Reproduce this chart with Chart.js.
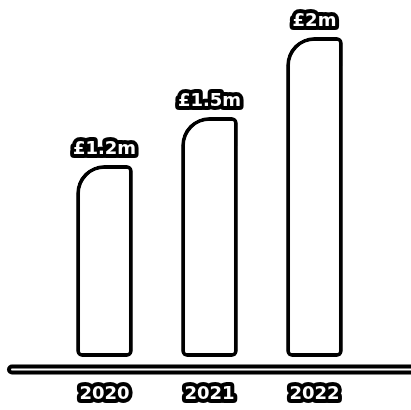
<!DOCTYPE html>
<html>
<head>
<meta charset="utf-8">
<script src="https://cdn.jsdelivr.net/npm/chart.js@4/dist/chart.umd.min.js"></script>
<style>
html,body{margin:0;padding:0;background:#fff;}
#wrap{width:411px;height:410px;}
</style>
</head>
<body>
<div id="wrap"><canvas id="c" width="411" height="410"></canvas></div>
<script>
const categories = ["2020", "2021", "2022"];
const values = [1.2, 1.5, 2.0];
const valueLabels = ["£1.2m", "£1.5m", "£2m"];

const FONT = 'bold 18px "DejaVu Sans", sans-serif';

function outlinedText(ctx, text, x, y) {
  ctx.save();
  ctx.font = FONT;
  ctx.textAlign = 'center';
  ctx.textBaseline = 'middle';
  ctx.lineJoin = 'round';
  ctx.lineCap = 'round';
  ctx.lineWidth = 8;
  ctx.strokeStyle = '#000';
  ctx.strokeText(text, x, y);
  ctx.fillStyle = '#fff';
  ctx.fillText(text, x, y);
  ctx.restore();
}

const decor = {
  id: 'decor',
  afterDatasetsDraw(chart) {
    const ctx = chart.ctx;
    const meta = chart.getDatasetMeta(0);
    const xs = chart.scales.x;
    // baseline
    const by = chart.chartArea.bottom + 12.5;
    ctx.save();
    ctx.lineCap = 'round';
    ctx.strokeStyle = '#000';
    ctx.lineWidth = 10;
    ctx.beginPath(); ctx.moveTo(12, by); ctx.lineTo(chart.width + 10, by); ctx.stroke();
    ctx.strokeStyle = '#fff';
    ctx.lineWidth = 2;
    ctx.beginPath(); ctx.moveTo(12, by); ctx.lineTo(chart.width + 10, by); ctx.stroke();
    ctx.restore();
    // value labels
    meta.data.forEach((bar, i) => {
      outlinedText(ctx, valueLabels[i], bar.x, bar.y - 16);
    });
    // category labels
    categories.forEach((c, i) => {
      outlinedText(ctx, c, xs.getPixelForValue(i), chart.chartArea.bottom + 37);
    });
  }
};

new Chart(document.getElementById('c'), {
  type: 'bar',
  data: {
    labels: categories,
    datasets: [{
      data: values,
      backgroundColor: '#fff',
      borderColor: '#000',
      borderWidth: 4,
      borderSkipped: false,
      borderRadius: {topLeft: 40, topRight: 6, bottomLeft: 6, bottomRight: 6},
      barPercentage: 0.9,
      categoryPercentage: 0.6
    }]
  },
  options: {
    responsive: false,
    animation: false,
    devicePixelRatio: 1,
    layout: {padding: {top: 5, bottom: 53, left: 52, right: 44}},
    plugins: {legend: {display: false}, tooltip: {enabled: false}},
    scales: {
      x: {display: false},
      y: {display: false, min: 0, max: 2.2}
    }
  },
  plugins: [decor]
});
</script>
</body>
</html>
